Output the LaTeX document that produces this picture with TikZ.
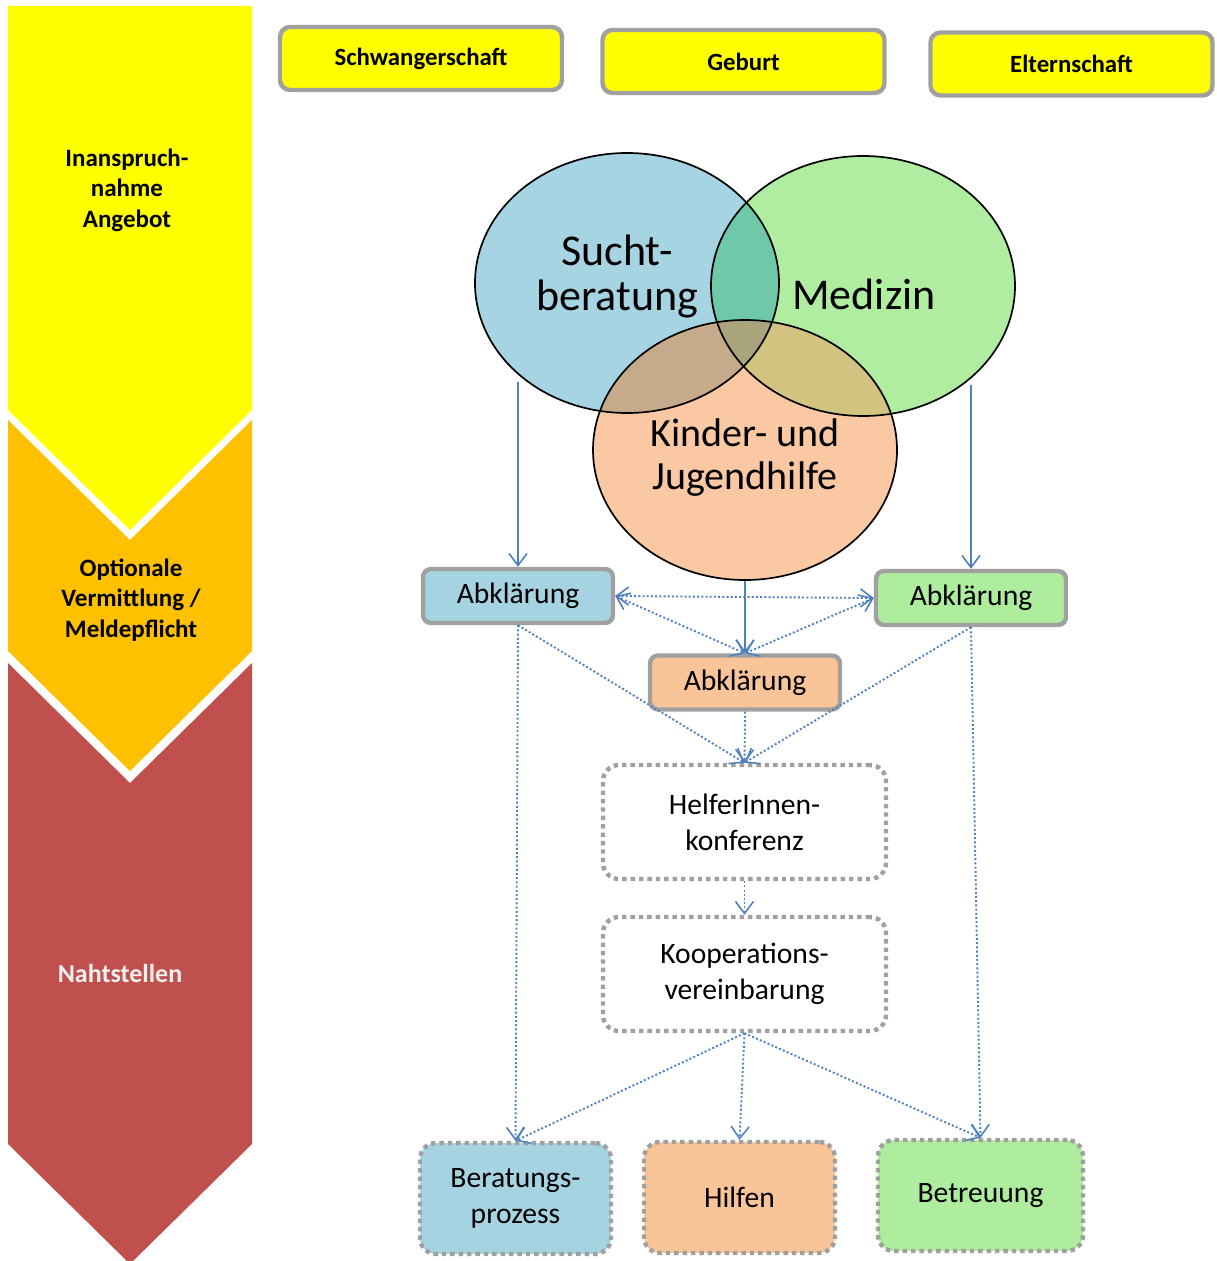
\documentclass[tikz,border=0pt]{standalone}
\usepackage{fontspec}
\setmainfont{Carlito}
\usetikzlibrary{arrows.meta,shapes.geometric}
\definecolor{yel}{RGB}{255,255,0}
\definecolor{chevorange}{RGB}{255,192,0}
\definecolor{chevred}{RGB}{192,80,77}
\definecolor{boxgray}{RGB}{160,160,160}
\definecolor{arrblue}{RGB}{79,129,189}
\definecolor{cblue}{RGB}{166,212,226}
\definecolor{cgreen}{RGB}{176,237,160}
\definecolor{cpeach}{RGB}{250,201,163}
\definecolor{ibg}{RGB}{111,200,168}
\definecolor{ibo}{RGB}{198,170,140}
\definecolor{igo}{RGB}{210,196,128}
\definecolor{ibgo}{RGB}{170,164,124}
\definecolor{bblue}{RGB}{165,211,225}
\definecolor{bgreen}{RGB}{174,236,158}
\definecolor{bpeach}{RGB}{249,196,152}
\begin{document}
\begin{tikzpicture}[x=0.5pt,y=-0.5pt,
  vtip/.tip={Straight Barb[length=6pt,width=9pt,line width=0.8pt]},
  lbl/.style={font=\bfseries\fontsize{12.5pt}{15.25pt}\selectfont, align=center, inner sep=0pt},
  topbox/.style={draw=boxgray, line width=2.2pt, fill=yel, rounded corners=5pt,
    minimum width=141pt, minimum height=31.5pt, inner sep=0pt,
    font=\bfseries\fontsize{12.4pt}{15pt}\selectfont},
  venn/.style={ellipse, draw=black, line width=0.85pt, minimum width=152pt, minimum height=130pt, inner sep=0pt},
  venntxt/.style={align=center, inner sep=0pt},
  abkl/.style={draw=boxgray, line width=2.2pt, rounded corners=4pt,
    minimum width=95pt, minimum height=27pt, inner sep=0pt,
    font=\fontsize{14.8pt}{18pt}\selectfont},
  dotbox/.style={draw=boxgray, line width=2.2pt, dash pattern=on 2.2pt off 2pt,
    rounded corners=8pt, align=center, inner sep=0pt,
    font=\fontsize{14.8pt}{18pt}\selectfont},
  conn/.style={draw=arrblue, line width=0.9pt, -vtip},
  dconn/.style={draw=arrblue, line width=0.95pt, dash pattern=on 1pt off 1.1pt, -vtip},
  dboth/.style={draw=arrblue, line width=0.95pt, dash pattern=on 1pt off 1.1pt, vtip-vtip}
]
\useasboundingbox (0,0) rectangle (1216,1261);

% left chevrons
\fill[yel] (8,6) -- (252,6) -- (252,410) -- (130,530) -- (8,410) -- cycle;
\fill[chevorange] (8,420) -- (130,540) -- (252,420) -- (252,651) -- (130,771) -- (8,651) -- cycle;
\fill[chevred] (8,663) -- (130,783) -- (252,663) -- (252,1144) -- (130,1264) -- (8,1144) -- cycle;
\node[lbl] (l1) at (127,190) {Inanspruch-\\nahme\\Angebot};
\node[lbl] (l2) at (131,600) {Optionale\\Vermittlung /\\Meldepflicht};
\node[lbl, text={rgb,255:red,245;green,240;blue,240}, font=\bfseries\fontsize{13pt}{15pt}\selectfont] (l3) at (120,973) {Nahtstellen};

% top boxes
\node[topbox] (schw) at (421,58.5) {Schwangerschaft};
\node[topbox] (geb) at (743.5,61.5) {Geburt};
\node[topbox] (elt) at (1071.5,64) {Elternschaft};

% venn fills
\fill[cblue] (627,283) ellipse [x radius=76pt, y radius=65pt];
\fill[cgreen] (863,286) ellipse [x radius=76pt, y radius=65pt];
\fill[cpeach] (745,450) ellipse [x radius=76pt, y radius=65pt];
\begin{scope}
  \clip (627,283) ellipse [x radius=76pt, y radius=65pt];
  \fill[ibg] (863,286) ellipse [x radius=76pt, y radius=65pt];
  \fill[ibo] (745,450) ellipse [x radius=76pt, y radius=65pt];
\end{scope}
\begin{scope}
  \clip (863,286) ellipse [x radius=76pt, y radius=65pt];
  \fill[igo] (745,450) ellipse [x radius=76pt, y radius=65pt];
  \clip (627,283) ellipse [x radius=76pt, y radius=65pt];
  \fill[ibgo] (745,450) ellipse [x radius=76pt, y radius=65pt];
\end{scope}
\node[venn] (sucht) at (627,283) {};
\node[venn] (medizin) at (863,286) {};
\node[venn] (kjh) at (745,450) {};
\node[venntxt, font=\fontsize{22pt}{22.5pt}\selectfont] (suchtT) at (617,277) {Sucht-\\beratung};
\node[venntxt, font=\fontsize{22pt}{22.5pt}\selectfont] (medT) at (864,294) {Medizin};
\node[venntxt, font=\fontsize{20pt}{21.5pt}\selectfont] (kjhT) at (745,458) {Kinder- und\\Jugendhilfe};

% Abklaerung boxes
\node[abkl, fill=bblue] (abklB) at (518,596) {Abklärung};
\node[abkl, fill=bgreen] (abklG) at (971,598) {Abklärung};
\node[abkl, fill=bpeach] (abklO) at (745,682.5) {Abklärung};

% dotted boxes
\node[dotbox, minimum width=141.5pt, minimum height=57pt] (helfer) at (744.5,822) {HelferInnen-\\konferenz};
\node[dotbox, minimum width=141.5pt, minimum height=57pt] (koop) at (744.5,974) {Kooperations-\\vereinbarung};
\node[dotbox, fill=bblue, minimum width=95.5pt, minimum height=55.5pt] (berat) at (515.5,1198.5) {Beratungs-\\prozess};
\node[dotbox, fill=bpeach, minimum width=95.5pt, minimum height=55.5pt] (hilfen) at (739.5,1197.5) {Hilfen};
\node[dotbox, fill=bgreen, minimum width=102.5pt, minimum height=55.5pt] (betreu) at (980.5,1195.5) {Betreuung};

% connectors
\draw[conn] (abklB.north |- sucht.-135) -- (abklB.north);
\draw[conn] (abklG.north |- medizin.-45) -- (abklG.north);
\draw[conn] (kjh.south) -- (abklO.north);
\draw[dboth] (abklB.east) -- (abklG.west);
\draw[dboth] (abklB.east) -- (abklO.north);
\draw[dboth] (abklG.west) -- (abklO.north);
\draw[dconn] (abklB.south) -- (helfer.north);
\draw[dconn] (abklG.south) -- (helfer.north);
\draw[dconn] (abklO.south) -- (helfer.north);
\draw[dconn] (abklB.south) -- (berat.north);
\draw[dconn] (abklG.south) -- (betreu.north);
\draw[dconn] (helfer.south) -- (koop.north);
\draw[dconn] (koop.south) -- (berat.north);
\draw[dconn] (koop.south) -- (hilfen.north);
\draw[dconn] (koop.south) -- (betreu.north);
\end{tikzpicture}
\end{document}
